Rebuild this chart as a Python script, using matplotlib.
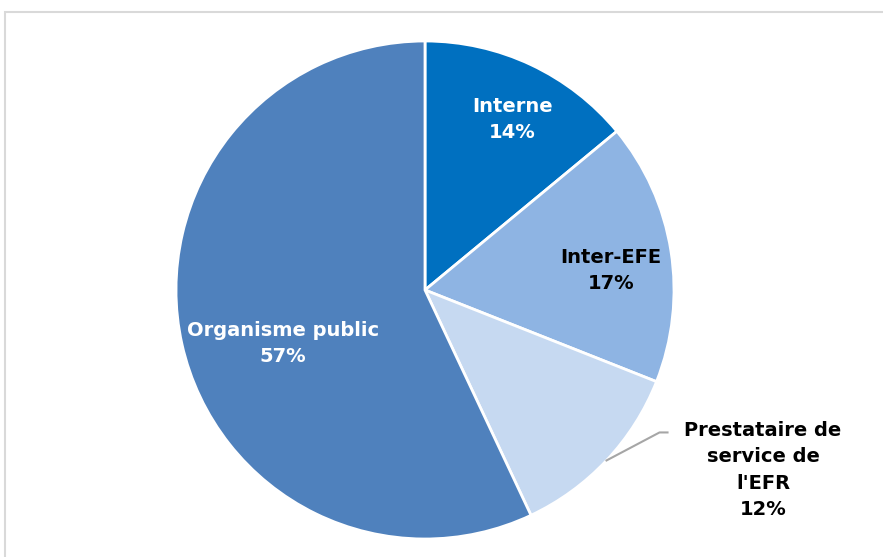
import numpy as np
import matplotlib.pyplot as plt
from matplotlib.patches import Rectangle

labels = ['Interne', 'Inter-EFE', "Prestataire de\nservice de\nl'EFR", 'Organisme public']
values = [14, 17, 12, 57]
colors = ['#0070C0', '#8EB4E3', '#C6D9F1', '#4F81BD']
text_colors = ['white', 'black', 'black', 'white']

fig = plt.figure(figsize=(8.83, 5.57), dpi=100)
ax = fig.add_axes([0, 0, 1, 1])

# frame around chart area
ax.add_patch(Rectangle((4.5, -5), 900, 550, fill=False, edgecolor='#D9D9D9', lw=1.5))

cx, cy, r = 425, 267, 249
wedges, _ = ax.pie(values, colors=colors, startangle=90, counterclock=False,
                   center=(cx, cy), radius=r, frame=True,
                   wedgeprops=dict(edgecolor='white', linewidth=2))
ax.set_xlim(0, 883)
ax.set_ylim(0, 557)
ax.set_aspect('equal')
ax.axis('off')

FS = 14
LS = 1.5
# label positions (radius fraction, angle offset from wedge middle)
pos = [(0.77, -2), (0.75, -3), (None, None), (0.61, 8)]
for w, lab, v, tc, p in zip(wedges, labels, values, text_colors, pos):
    mid = (w.theta1 + w.theta2) / 2
    txt = f'{lab}\n{v}%'
    if p[0] is None:
        # outside label with leader line
        a = np.radians(mid)
        x0, y0 = cx + r * np.cos(a), cy + r * np.sin(a)
        ax.plot([x0, x0 + 53, x0 + 61], [y0, y0 + 28, y0 + 28], color='#A6A6A6', lw=1.5)
        ax.text(cx + 338, cy - 180, txt, ha='center', va='center', fontsize=FS,
                fontweight='bold', color=tc, linespacing=LS)
    else:
        a = np.radians(mid + p[1])
        ax.text(cx + p[0] * r * np.cos(a), cy + p[0] * r * np.sin(a), txt,
                ha='center', va='center', fontsize=FS, fontweight='bold',
                color=tc, linespacing=LS)

plt.savefig('out.png', dpi=100)
